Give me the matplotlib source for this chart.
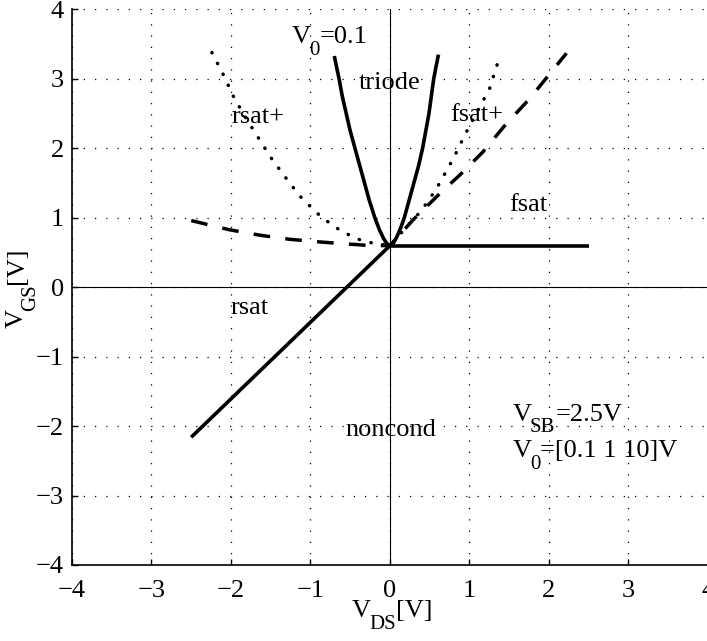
import matplotlib
matplotlib.use("Agg")
import matplotlib.pyplot as plt

plt.rcParams['font.family'] = ['Liberation Serif', 'DejaVu Serif']

# V0 = 0.1 : triode boundary (solid parabola)
vds_tri = [-0.70, -0.67, -0.64, -0.60, -0.55, -0.50, -0.44, -0.38, -0.32, -0.26, -0.19, -0.13,
           -0.08, -0.04, 0.0, 0.04, 0.08, 0.13, 0.18, 0.24, 0.30, 0.36, 0.41, 0.45, 0.49, 0.52,
           0.55, 0.58, 0.61]
vgs_tri = [3.33, 3.16, 3.00, 2.75, 2.50, 2.25, 2.00, 1.75, 1.50, 1.25, 1.00, 0.82,
           0.70, 0.63, 0.60, 0.63, 0.71, 0.84, 1.00, 1.25, 1.50, 1.75, 2.00, 2.25, 2.50, 2.75,
           3.00, 3.18, 3.35]

# fsat / rsat boundaries (solid straight lines)
vds_fsat = [0.0, 2.5]
vgs_fsat = [0.6, 0.6]
vds_rsat = [0.0, -2.5]
vgs_rsat = [0.6, -2.16]

# V0 = 1 (dashed)
vds_v1 = [-2.50, -2.03, -1.64, -1.26, -0.86, -0.50, -0.25, 0.0, 0.29, 0.61, 0.90, 1.17, 1.43, 1.76, 2.22]
vgs_v1 = [0.96, 0.83, 0.75, 0.69, 0.65, 0.62, 0.60, 0.60, 0.97, 1.33, 1.64, 1.95, 2.31, 2.72, 3.37]

# V0 = 10 (dotted)
vds_v10 = [-2.24, -2.10, -1.97, -1.82, -1.66, -1.50, -1.32, -1.14, -0.92, -0.70, -0.43, -0.20, 0.0,
           0.21, 0.40, 0.58, 0.80, 0.94, 1.13, 1.25, 1.36]
vgs_v10 = [3.38, 3.07, 2.75, 2.45, 2.16, 1.87, 1.59, 1.32, 1.07, 0.87, 0.70, 0.63, 0.60,
           0.87, 1.11, 1.41, 1.86, 2.19, 2.60, 2.85, 3.25]

ticks = [-4, -3, -2, -1, 0, 1, 2, 3, 4]

fs = 19
fs_sub = 15

fig = plt.figure(figsize=(7.07, 6.41), dpi=100)
ax = fig.add_axes([0.1018, 0.1186, 0.8996, 0.8666])

ax.axhline(0, color='black', lw=0.8, zorder=1)
ax.axvline(0, color='black', lw=0.8, zorder=1)

ax.plot(vds_tri, vgs_tri, color='black', lw=2.6, solid_capstyle='butt',
        solid_joinstyle='round', zorder=3)
ax.plot(vds_fsat, vgs_fsat, color='black', lw=2.6, solid_capstyle='butt', zorder=3)
ax.plot(vds_rsat, vgs_rsat, color='black', lw=2.6, solid_capstyle='butt', zorder=3)
ax.plot(vds_v1, vgs_v1, color='black', lw=2.5, linestyle=(0, (4.8, 4.4)), zorder=3)
ax.plot(vds_v10, vgs_v10, color='black', lw=2.5, linestyle=(0, (0.1, 3.4)),
        dash_capstyle='round', zorder=3)

ax.set_xlim(-4, 4)
ax.set_ylim(-4, 4)
ax.set_xticks(ticks)
ax.set_yticks(ticks)
ax.grid(True, color='black', lw=0.9, linestyle=(0, (1, 8)))
ax.tick_params(direction='in', length=4, width=1, labelsize=fs, pad=6)
ax.tick_params(axis='x', pad=11)
for s in ['top', 'right']:
    ax.spines[s].set_visible(False)
for s in ['left', 'bottom']:
    ax.spines[s].set_linewidth(1.2)


def vsub(x, y, sub, rest, transform, rot=False):
    # MATLAB-style "V" with a big, deeply lowered subscript
    if not rot:
        t1 = ax.text(x, y, 'V', fontsize=fs, ha='left', va='baseline', transform=transform)
        t2 = ax.annotate(sub, xy=(1, 0), xycoords=t1, xytext=(-1, -5),
                         textcoords='offset points', fontsize=fs_sub, ha='left', va='baseline')
        ax.annotate(rest, xy=(1, 0), xycoords=(t2, t1), fontsize=fs, ha='left', va='bottom')
    else:
        t1 = ax.text(x, y, 'V', fontsize=fs, ha='left', va='baseline', transform=transform,
                     rotation=90, rotation_mode='anchor')
        t2 = ax.annotate(sub, xy=(1, 1), xycoords=t1, xytext=(5, -1),
                         textcoords='offset points', fontsize=fs_sub, ha='left', va='baseline',
                         rotation=90, rotation_mode='anchor')
        ax.annotate(rest, xy=(1, 1), xycoords=(t1, t2), fontsize=fs, ha='left', va='bottom',
                    rotation=90, rotation_mode='anchor')


ax.text(0.0, 2.85, 'triode', fontsize=fs, ha='center', va='baseline')
ax.text(-1.99, 2.36, 'rsat+', fontsize=fs, ha='left', va='baseline')
ax.text(0.755, 2.39, 'fsat+', fontsize=fs, ha='left', va='baseline')
ax.text(1.50, 1.10, 'fsat', fontsize=fs, ha='left', va='baseline')
ax.text(-2.0, -0.39, 'rsat', fontsize=fs, ha='left', va='baseline')
ax.text(0.01, -2.14, 'noncond', fontsize=fs, ha='center', va='baseline')

vsub(-1.24, 3.52, '0', '=0.1', ax.transData)
vsub(1.54, -1.92, 'SB', '=2.5V', ax.transData)
vsub(1.54, -2.45, '0', '=[0.1 1 10]V', ax.transData)

# axis labels
vsub(0.44, -0.0934, 'DS', '[V]', ax.transAxes)
vsub(-0.077, 0.426, 'GS', '[V]', ax.transAxes, rot=True)

fig.savefig('out.png', dpi=100)
